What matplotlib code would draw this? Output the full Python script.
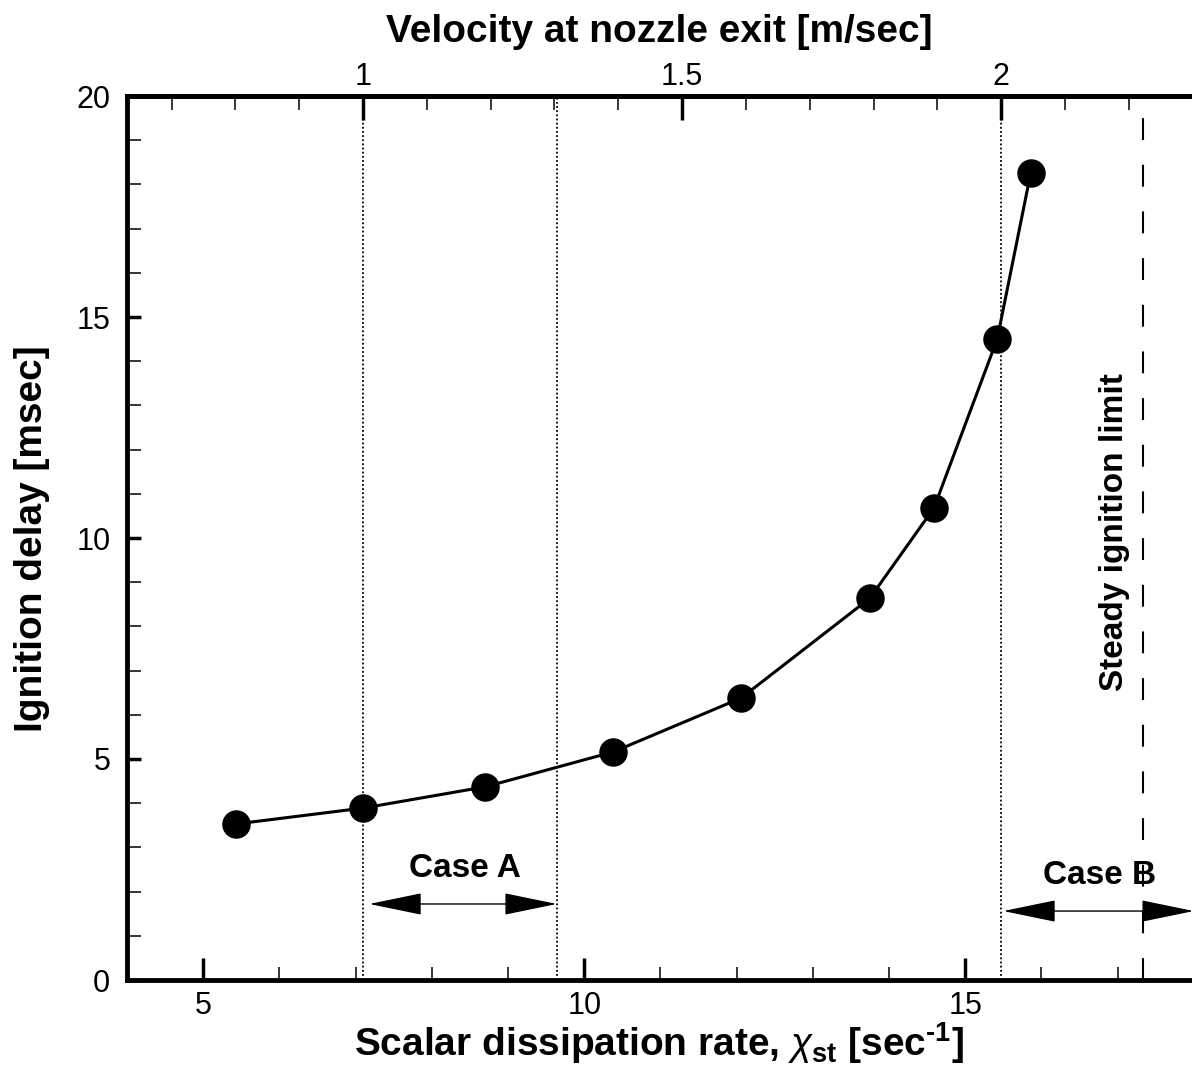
import matplotlib
matplotlib.use("Agg")
import matplotlib.pyplot as plt
from matplotlib.patches import FancyArrowPatch
from matplotlib.ticker import MultipleLocator

# Ignition delay versus scalar dissipation rate at stoichiometry
chi_st = [5.43, 7.10, 8.70, 10.38, 12.06, 13.75, 14.59, 15.42, 15.86]
ignition_delay = [3.53, 3.89, 4.37, 5.16, 6.38, 8.64, 10.68, 14.50, 18.26]

# Nozzle exit velocity is linear in chi_st
chi_at_v1 = 7.097      # chi_st at 1 m/sec
chi_per_v = 8.375      # increase of chi_st per m/sec

velocity_ticks = [1, 1.5, 2]
velocity_labels = ["1", "1.5", "2"]
chi_ticks = [5, 10, 15]
delay_ticks = [0, 5, 10, 15, 20]

case_bounds = [7.10, 9.64, 15.47]      # dotted guide lines
steady_limit = 17.33                   # dashed line
case_a_span = (7.18, 9.64)
case_a_y = 1.72
case_b_span = (15.50, 18.0)
case_b_y = 1.56


def chi_to_v(c):
    return 1.0 + (c - chi_at_v1) / chi_per_v


def v_to_chi(v):
    return chi_at_v1 + (v - 1.0) * chi_per_v


plt.rcParams["font.family"] = ["Liberation Sans", "DejaVu Sans"]
plt.rcParams["mathtext.fontset"] = "custom"
plt.rcParams["mathtext.rm"] = "Liberation Sans"
plt.rcParams["mathtext.it"] = "Liberation Sans:italic"
plt.rcParams["mathtext.bf"] = "Liberation Sans:bold"

W, H = 1192, 1069
fig = plt.figure(figsize=(W / 100, H / 100), dpi=100)
ax = fig.add_axes([127 / W, 89 / H, 1066.8 / W, 884 / H])
ax.set_xlim(4, 18)
ax.set_ylim(0, 20)

ax.plot(chi_st, ignition_delay, "-o", color="black", lw=2.2, ms=19.5,
        zorder=5, clip_on=False)

for xb in case_bounds:
    ax.axvline(xb, color="black", lw=1.3, linestyle=(0, (1, 1.3)), zorder=2)
ax.axvline(steady_limit, color="black", lw=1.5,
           linestyle=(0, (10.5, 11.9)), zorder=2)

for (x0, x1), y in [(case_a_span, case_a_y), (case_b_span, case_b_y)]:
    arr = FancyArrowPatch((x0, y), (x1, y),
                          arrowstyle="<|-|>,head_length=34,head_width=7",
                          mutation_scale=1, lw=1.0, color="black",
                          shrinkA=0, shrinkB=0, clip_on=False, zorder=4)
    ax.add_patch(arr)

ax.text(8.44, 2.33, "Case A", ha="center", va="baseline",
        fontsize=24, fontweight="bold")
ax.text(16.76, 2.17, "Case B", ha="center", va="baseline",
        fontsize=24, fontweight="bold")
ax.text(17.07, 10.14, "Steady ignition limit", rotation=90,
        rotation_mode="anchor", ha="center", va="baseline",
        fontsize=24, fontweight="bold")

# Bottom and left axes
ax.set_xticks(chi_ticks)
ax.xaxis.set_minor_locator(MultipleLocator(1))
ax.set_yticks(delay_ticks)
ax.yaxis.set_minor_locator(MultipleLocator(1))
ax.tick_params(axis="x", which="major", direction="in", length=16, width=2.5,
               labelsize=22, pad=8, top=False)
ax.tick_params(axis="x", which="minor", direction="in", length=9.5,
               width=1.1, top=False)
ax.tick_params(axis="y", which="major", direction="in", length=10, width=2.5,
               labelsize=22, pad=12, right=False)
ax.tick_params(axis="y", which="minor", direction="in", length=10,
               width=1.1, right=False)
for side in ("left", "bottom", "top"):
    ax.spines[side].set_linewidth(3.5)
ax.spines["right"].set_visible(False)

ax.set_xlabel("Scalar dissipation rate, $\\chi_{\\mathbf{st}}$ [sec$^{\\mathbf{\u20101}}$]",
              fontsize=28, fontweight="bold", va="baseline", ha="center")
ax.xaxis.set_label_coords(0.4987, -0.0862)
ax.set_ylabel("Ignition delay [msec]", fontsize=28, fontweight="bold",
              rotation=90, rotation_mode="anchor", va="baseline", ha="center")
ax.yaxis.set_label_coords(-0.0797, 0.4989)

# Top axis: nozzle exit velocity
sec = ax.secondary_xaxis("top", functions=(chi_to_v, v_to_chi))
sec.set_xticks(velocity_ticks, labels=velocity_labels)
sec.xaxis.set_minor_locator(MultipleLocator(0.1))
sec.tick_params(which="major", direction="in", length=17, width=2.5,
                labelsize=22, pad=3)
sec.tick_params(which="minor", direction="in", length=10, width=1.1)
sec.spines["top"].set_linewidth(3.5)
sec.set_xlabel("Velocity at nozzle exit [m/sec]", fontsize=28,
               fontweight="bold", va="baseline", ha="center")
sec.xaxis.set_label_coords(0.4987, 1.0611, transform=ax.transAxes)

fig.savefig("out.png", dpi=100)
